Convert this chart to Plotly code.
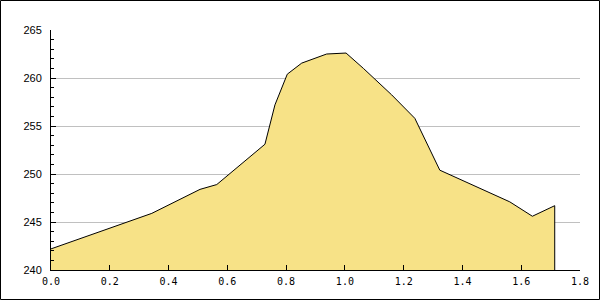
import plotly.graph_objects as go

# Data
x_vals = [0.0, 0.343, 0.507, 0.564, 0.728, 0.762, 0.804, 0.853, 0.938, 1.004,
          1.063, 1.159, 1.238, 1.323, 1.561, 1.638, 1.714]
y_vals = [242.2, 245.9, 248.4, 248.9, 253.1, 257.2, 260.4, 261.55, 262.5, 262.6,
          261.0, 258.25, 255.8, 250.4, 247.1, 245.6, 246.7]

Y_MIN, Y_MAX = 240, 265
X_MIN, X_MAX = 0, 1.8
x_ticks = [0.0, 0.2, 0.4, 0.6, 0.8, 1.0, 1.2, 1.4, 1.6, 1.8]
x_tick_labels = ["0.0", "0.2", "0.4", "0.6", "0.8", "1.0", "1.2", "1.4", "1.6", "1.8"]
y_ticks = [240, 245, 250, 255, 260, 265]

W, H = 600, 300
ML, MR, MT, MB = 51, 20, 30, 30
PW, PH = W - ML - MR, H - MT - MB

fig = go.Figure()
fig.add_trace(go.Scatter(
    x=x_vals + [x_vals[-1]],
    y=y_vals + [Y_MIN],
    mode="lines",
    line=dict(color="black", width=1),
    fill="tozeroy",
    fillcolor="#F7E287",
    hoverinfo="skip",
))

fig.update_layout(
    width=W, height=H,
    margin=dict(l=ML, r=MR, t=MT, b=MB, pad=0),
    paper_bgcolor="white",
    plot_bgcolor="white",
    showlegend=False,
    xaxis=dict(
        range=[X_MIN, X_MAX],
        tickvals=x_ticks, ticktext=x_tick_labels,
        ticks="inside", ticklen=5, tickcolor="black",
        showline=True, linecolor="black", linewidth=1,
        showgrid=False, zeroline=False,
        ticklabelstandoff=2,
        tickfont=dict(family="DejaVu Sans Mono", size=10, color="black"),
    ),
    yaxis=dict(
        range=[Y_MIN, Y_MAX],
        tickvals=y_ticks,
        ticks="inside", ticklen=5, tickcolor="black",
        showline=True, linecolor="black", linewidth=1,
        showgrid=True, gridcolor="#C0C0C0", gridwidth=1,
        zeroline=False,
        minor=dict(dtick=1, ticks="inside", ticklen=3, tickcolor="black", showgrid=False),
        ticklabelstandoff=6,
        tickfont=dict(family="Liberation Sans", size=11, color="black"),
    ),
    shapes=[dict(
        type="rect", xref="paper", yref="paper",
        x0=(0.5 - ML) / PW, x1=(W - 0.5 - ML) / PW,
        y0=((H - MB) - (H - 0.5)) / PH,
        y1=((H - MB) - 0.5) / PH,
        line=dict(color="black", width=1),
        fillcolor="rgba(0,0,0,0)",
        layer="above",
    )],
)

fig.write_html("out.html")
